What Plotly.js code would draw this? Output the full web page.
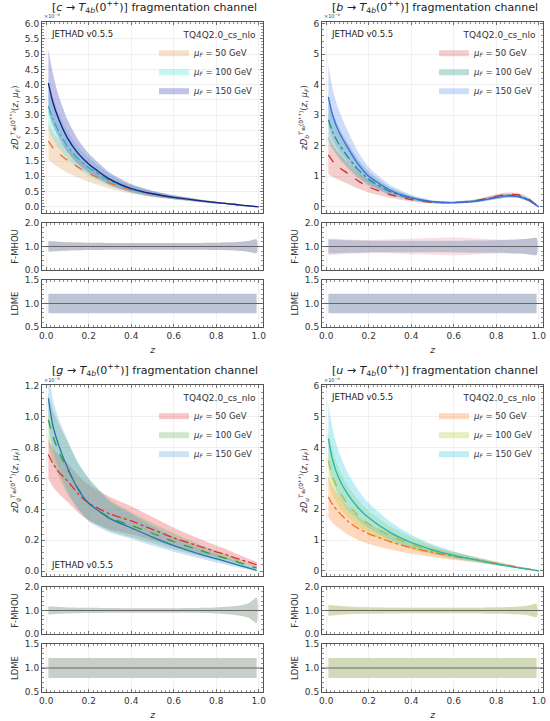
<!DOCTYPE html>
<html><head><meta charset="utf-8">
<script src="https://cdn.plot.ly/plotly-3.0.1.min.js"></script>
<style>html,body{margin:0;padding:0;background:#fff}#plot{width:550px;height:721px}</style>
</head><body><div id="plot"></div>
<script>
// ---------------- data (values in units of the axis multiplier) ----------------
const Z   = [0.01,0.03,0.06,0.1,0.15,0.2,0.3,0.4,0.5,0.6,0.7,0.8,0.85,0.9,0.95,1.0];
const Z_G = [0.01,0.03,0.06,0.1,0.15,0.2,0.3,0.4,0.5,0.6,0.7,0.8,0.85,0.9,0.95,0.99];
const Z_F = [0.01,0.1,0.2,0.4,0.6,0.8,0.9,0.95,0.99];
const Z_L = [0.01,0.99];
const SCALE_LABELS = ['50','100','150'];

// c -> T4b (x1e-9)
const C50     = [2.15,1.95,1.75,1.52,1.30,1.10,0.78,0.56,0.41,0.31,0.22,0.145,0.11,0.075,0.038,0];
const C50_HI  = [2.70,2.45,2.20,1.90,1.62,1.37,0.97,0.69,0.50,0.37,0.27,0.175,0.135,0.09,0.046,0];
const C50_LO  = [1.55,1.42,1.28,1.12,0.96,0.82,0.59,0.43,0.32,0.24,0.17,0.115,0.088,0.06,0.03,0];
const C100    = [3.30,2.90,2.45,1.98,1.58,1.28,0.85,0.58,0.42,0.31,0.22,0.14,0.11,0.07,0.035,0];
const C100_HI = [4.20,3.65,3.05,2.48,1.97,1.60,1.06,0.72,0.52,0.38,0.27,0.17,0.13,0.09,0.045,0];
const C100_LO = [2.55,2.25,1.92,1.57,1.25,1.02,0.68,0.47,0.34,0.25,0.18,0.11,0.085,0.055,0.025,0];
const C150    = [4.05,3.45,2.85,2.25,1.75,1.40,0.90,0.60,0.43,0.31,0.22,0.14,0.11,0.07,0.035,0];
const C150_HI = [5.15,4.40,3.60,2.85,2.20,1.75,1.12,0.75,0.53,0.38,0.27,0.17,0.13,0.09,0.045,0];
const C150_LO = [3.10,2.70,2.25,1.80,1.40,1.12,0.72,0.48,0.34,0.25,0.18,0.11,0.085,0.055,0.025,0];
const C_F_HI  = [1.22,1.18,1.16,1.15,1.15,1.16,1.19,1.23,1.30];
const C_F_LO  = [0.79,0.83,0.85,0.86,0.86,0.85,0.82,0.78,0.72];
const C_F2_HI = [1.25,1.19,1.16,1.15,1.15,1.16,1.19,1.23,1.30];
const C_F2_LO = [0.77,0.82,0.85,0.86,0.86,0.85,0.82,0.78,0.72];

// b -> T4b (x1e-9)
const B50     = [1.70,1.50,1.30,1.10,0.85,0.65,0.40,0.24,0.15,0.14,0.20,0.35,0.41,0.40,0.27,0];
const B50_HI  = [2.30,2.00,1.75,1.47,1.13,0.86,0.53,0.31,0.19,0.17,0.24,0.41,0.47,0.46,0.32,0];
const B50_LO  = [1.07,0.98,0.88,0.76,0.60,0.47,0.30,0.18,0.11,0.11,0.16,0.29,0.35,0.34,0.22,0];
const B100    = [2.85,2.45,2.05,1.65,1.22,0.90,0.50,0.28,0.16,0.14,0.19,0.32,0.37,0.36,0.24,0];
const B100_HI = [3.60,3.10,2.60,2.10,1.55,1.15,0.64,0.36,0.20,0.17,0.23,0.37,0.42,0.41,0.28,0];
const B100_LO = [2.20,1.90,1.60,1.28,0.95,0.70,0.39,0.22,0.12,0.11,0.15,0.26,0.31,0.31,0.20,0];
const B150    = [3.60,3.00,2.45,1.95,1.40,1.00,0.55,0.30,0.17,0.14,0.18,0.30,0.35,0.34,0.22,0];
const B150_HI = [4.65,3.85,3.15,2.50,1.80,1.30,0.72,0.40,0.22,0.18,0.23,0.36,0.41,0.39,0.26,0];
const B150_LO = [2.65,2.25,1.85,1.50,1.08,0.78,0.42,0.23,0.13,0.11,0.14,0.25,0.30,0.29,0.18,0];
const B_F_HI  = [1.30,1.27,1.25,1.25,1.25,1.27,1.30,1.33,1.36];
const B_F_LO  = [0.70,0.73,0.75,0.75,0.75,0.73,0.70,0.67,0.64];
const B_F2_HI = [1.35,1.30,1.28,1.33,1.38,1.30,1.30,1.33,1.36];
const B_F2_LO = [0.63,0.68,0.72,0.67,0.62,0.70,0.70,0.67,0.64];

// g -> T4b (x1e-8)
const G50     = [0.755,0.70,0.64,0.585,0.50,0.44,0.37,0.325,0.27,0.215,0.17,0.125,0.105,0.08,0.06,0.04];
const G50_HI  = [0.85,0.80,0.75,0.70,0.62,0.56,0.48,0.42,0.35,0.28,0.22,0.165,0.14,0.11,0.08,0.06];
const G50_LO  = [0.60,0.55,0.50,0.45,0.38,0.33,0.27,0.24,0.20,0.16,0.125,0.09,0.075,0.055,0.04,0.025];
const G100    = [0.98,0.88,0.77,0.66,0.535,0.44,0.345,0.295,0.245,0.19,0.145,0.10,0.08,0.06,0.035,0.02];
const G100_HI = [1.15,1.05,0.95,0.84,0.70,0.60,0.46,0.38,0.31,0.245,0.185,0.13,0.105,0.08,0.05,0.03];
const G100_LO = [0.82,0.72,0.61,0.50,0.40,0.33,0.26,0.22,0.18,0.14,0.105,0.07,0.055,0.04,0.02,0.01];
const G150    = [1.12,0.95,0.81,0.67,0.53,0.44,0.34,0.28,0.22,0.165,0.12,0.08,0.06,0.04,0.02,0.005];
const G150_HI = [1.35,1.12,0.98,0.85,0.70,0.60,0.45,0.37,0.29,0.22,0.16,0.11,0.085,0.06,0.035,0.015];
const G150_LO = [0.95,0.80,0.66,0.52,0.40,0.32,0.25,0.21,0.165,0.125,0.09,0.055,0.04,0.025,0.01,0.0];
const G_F_HI  = [1.18,1.13,1.12,1.10,1.10,1.13,1.20,1.30,1.55];
const G_F_LO  = [0.83,0.87,0.89,0.90,0.90,0.87,0.80,0.70,0.47];
const G_F2_HI = [1.18,1.13,1.12,1.10,1.10,1.13,1.20,1.30,1.55];
const G_F2_LO = [0.83,0.87,0.89,0.90,0.90,0.87,0.80,0.70,0.47];

// u -> T4b (x1e-9)
const U50     = [2.40,2.15,1.90,1.62,1.38,1.20,0.95,0.75,0.60,0.47,0.36,0.24,0.18,0.12,0.06,0];
const U50_HI  = [3.05,2.73,2.42,2.06,1.76,1.53,1.21,0.95,0.76,0.59,0.45,0.30,0.225,0.15,0.075,0];
const U50_LO  = [1.72,1.55,1.38,1.18,1.00,0.87,0.69,0.55,0.44,0.35,0.27,0.18,0.135,0.09,0.045,0];
const U100    = [3.58,3.05,2.60,2.17,1.80,1.52,1.14,0.86,0.65,0.49,0.36,0.23,0.17,0.11,0.055,0];
const U100_HI = [4.55,3.90,3.30,2.77,2.30,1.94,1.45,1.10,0.83,0.62,0.45,0.29,0.21,0.135,0.068,0];
const U100_LO = [2.85,2.45,2.08,1.74,1.44,1.22,0.91,0.69,0.52,0.39,0.29,0.18,0.135,0.087,0.044,0];
const U150    = [4.30,3.60,3.00,2.50,2.05,1.72,1.25,0.92,0.68,0.50,0.36,0.22,0.16,0.10,0.05,0];
const U150_HI = [5.45,4.60,3.85,3.20,2.62,2.20,1.60,1.17,0.86,0.63,0.45,0.28,0.20,0.125,0.063,0];
const U150_LO = [3.40,2.90,2.40,2.00,1.65,1.38,1.00,0.74,0.55,0.40,0.29,0.18,0.13,0.08,0.04,0];
const U_F_HI  = [1.22,1.16,1.13,1.12,1.12,1.13,1.16,1.20,1.28];
const U_F_LO  = [0.79,0.85,0.87,0.88,0.88,0.87,0.84,0.80,0.72];
const U_F2_HI = [1.25,1.18,1.14,1.12,1.12,1.13,1.16,1.20,1.28];
const U_F2_LO = [0.76,0.83,0.86,0.88,0.88,0.87,0.84,0.80,0.72];

// LDME band
const LDME_HI = [1.21,1.21];
const LDME_LO = [0.79,0.79];

// ---------------- panel options built from the arrays ----------------
const panels = [
  {flav:'c', exp:'9', z:Z, cen:[C50,C100,C150], hi:[C50_HI,C100_HI,C150_HI], lo:[C50_LO,C100_LO,C150_LO],
   fhi:C_F_HI, flo:C_F_LO, f2hi:C_F2_HI, f2lo:C_F2_LO,
   band:['rgba(232,170,110,0.35)','rgba(64,224,208,0.30)','rgba(100,100,200,0.40)'],
   line:['#e8732a','#22b8b0','#1c1c8a'], dash:['dash','dashdot','solid'],
   fcol:'rgba(165,178,205,0.70)', f2col:'rgba(235,190,150,0.40)', lcol:'#bcc5d5',
   yr:[-0.2,6.05], dt:0.5, mdt:0.1, fmt:'.1f', jet:'top'},
  {flav:'b', exp:'9', z:Z, cen:[B50,B100,B150], hi:[B50_HI,B100_HI,B150_HI], lo:[B50_LO,B100_LO,B150_LO],
   fhi:B_F_HI, flo:B_F_LO, f2hi:B_F2_HI, f2lo:B_F2_LO,
   band:['rgba(220,90,90,0.30)','rgba(40,150,130,0.32)','rgba(100,150,235,0.32)'],
   line:['#d62728','#1f8f80','#4169e1'], dash:['dash','dashdot','solid'],
   fcol:'rgba(165,178,205,0.70)', f2col:'rgba(240,170,170,0.35)', lcol:'#bcc5d5',
   yr:[-0.2,6.05], dt:1, mdt:0.2, fmt:'d', jet:'top'},
  {flav:'g', exp:'8', z:Z_G, cen:[G50,G100,G150], hi:[G50_HI,G100_HI,G150_HI], lo:[G50_LO,G100_LO,G150_LO],
   fhi:G_F_HI, flo:G_F_LO, f2hi:G_F2_HI, f2lo:G_F2_LO,
   band:['rgba(235,90,100,0.35)','rgba(90,180,90,0.30)','rgba(90,160,215,0.30)'],
   line:['#e03030','#2ca02c','#1f77b4'], dash:['dashdot','dash','solid'],
   fcol:'rgba(185,196,188,0.80)', f2col:'rgba(185,196,188,0.0)', lcol:'#c8cfc8',
   yr:[-0.032,1.206], dt:0.2, mdt:0.04, fmt:'.1f', jet:'bottom'},
  {flav:'u', exp:'9', z:Z, cen:[U50,U100,U150], hi:[U50_HI,U100_HI,U150_HI], lo:[U50_LO,U100_LO,U150_LO],
   fhi:U_F_HI, flo:U_F_LO, f2hi:U_F2_HI, f2lo:U_F2_LO,
   band:['rgba(255,160,90,0.40)','rgba(195,205,70,0.35)','rgba(70,210,230,0.35)'],
   line:['#ff6a13','#b5bd2a','#20b5b5'], dash:['dashdot','dash','solid'],
   fcol:'rgba(205,212,170,0.80)', f2col:'rgba(250,200,150,0.40)', lcol:'#d3dab9',
   yr:[-0.17,6.04], dt:1, mdt:0.2, fmt:'d', jet:'top'}
];

// pixel-based layout helpers (page 550x721)
const W = 550, H = 721;
const px = v => v / W, py = v => 1 - v / H;
const colX = [[42,263],[322,543]];
const rowY = [ // [main, F, LDME] each [top,bottom] in px
  [[22,213],[223,270],[280,327]],
  [[385,576],[587,634],[644,692]]
];
const FONT = 'DejaVu Sans, Liberation Sans, sans-serif';

function axBase(){
  return {showline:true, linecolor:'#555', linewidth:1, mirror:'allticks',
    ticks:'inside', ticklen:3, tickwidth:0.8, tickcolor:'#555',
    showgrid:true, gridcolor:'#ececec', gridwidth:0.8, zeroline:false,
    tickfont:{family:FONT, size:9, color:'#333'}};
}

const traces = [];
const layout = {
  width:W, height:H, margin:{l:0,r:0,t:0,b:0}, paper_bgcolor:'#fff', plot_bgcolor:'#fff',
  showlegend:true, font:{family:FONT, color:'#222'}, annotations:[], shapes:[]
};

function bandTrace(x, hi, lo, color, xa, ya, extra){
  const xs = x.concat(x.slice().reverse());
  const ys = hi.concat(lo.slice().reverse());
  return Object.assign({type:'scatter', mode:'lines', x:xs, y:ys, fill:'toself', fillcolor:color,
    line:{width:0, color:color, shape:'spline', smoothing:0.6}, hoverinfo:'skip', showlegend:false,
    xaxis:xa, yaxis:ya}, extra||{});
}

panels.forEach((p, i) => {
  const col = i % 2, row = Math.floor(i / 2);
  const legKey = i === 0 ? 'legend' : 'legend' + (i + 1);
  const xs = colX[col];
  const ids = [0,1,2].map(s => i*3 + s + 1);
  const xn = n => n === 1 ? 'x' : 'x' + n;
  const yn = n => n === 1 ? 'y' : 'y' + n;

  ids.forEach((n, s) => {
    const xk = n === 1 ? 'xaxis' : 'xaxis' + n;
    const yk = n === 1 ? 'yaxis' : 'yaxis' + n;
    const yd = rowY[row][s];
    const xa = Object.assign(axBase(), {domain:[px(xs[0]), px(xs[1])], range:[-0.02,1.02],
      dtick:0.2, tick0:0, tickformat:'.1f', anchor:yn(n), showticklabels: s === 2,
      minor:{ticks:'inside', ticklen:1.6, tickcolor:'#777', dtick:0.02, showgrid:false}});
    if (s === 2) xa.title = {text:'<i>z</i>', font:{family:FONT, size:9, color:'#333'}, standoff:6};
    const ya = Object.assign(axBase(), {domain:[py(yd[1]), py(yd[0])], anchor:xn(n)});
    if (s === 0) {
      Object.assign(ya, {range:p.yr, dtick:p.dt, tick0:0, tickformat:p.fmt,
        minor:{ticks:'inside', ticklen:1.6, tickcolor:'#777', dtick:p.mdt, showgrid:false},
        title:{text:'<i>zD</i><sub><i>'+p.flav+'</i></sub><sup><i>T</i><sub>4b</sub>(0<sup>++</sup>)</sup>(<i>z</i>, <i>μ<sub>F</sub></i>)',
          font:{family:FONT, size:8.5, color:'#333'}, standoff:4}});
    } else if (s === 1) {
      Object.assign(ya, {range:[0,2], dtick:1, tick0:0, tickformat:'.1f',
        minor:{ticks:'inside', ticklen:1.6, tickcolor:'#777', dtick:0.2, showgrid:false},
        title:{text:'F-MHOU', font:{family:FONT, size:8.5, color:'#333'}, standoff:4}});
    } else {
      Object.assign(ya, {range:[0.5,1.5], dtick:0.5, tick0:0, tickformat:'.1f',
        minor:{ticks:'inside', ticklen:1.6, tickcolor:'#777', dtick:0.1, showgrid:false},
        title:{text:'LDME', font:{family:FONT, size:8.5, color:'#333'}, standoff:4}});
    }
    layout[xk] = xa; layout[yk] = ya;
  });

  for (let k = 0; k < 3; k++) {
    traces.push(bandTrace(p.z, p.hi[k], p.lo[k], p.band[k], xn(ids[0]), yn(ids[0]),
      {showlegend:true, legend:legKey, name:'<i>μ<sub>F</sub></i> = '+SCALE_LABELS[k]+' GeV'}));
  }
  for (let k = 0; k < 3; k++) {
    traces.push({type:'scatter', mode:'lines', x:p.z, y:p.cen[k], showlegend:false, hoverinfo:'skip',
      line:{color:p.line[k], width:1.3, dash:p.dash[k], shape:'spline', smoothing:0.6},
      xaxis:xn(ids[0]), yaxis:yn(ids[0])});
  }
  traces.push(bandTrace(Z_F, p.f2hi, p.f2lo, p.f2col, xn(ids[1]), yn(ids[1])));
  traces.push(bandTrace(Z_F, p.fhi, p.flo, p.fcol, xn(ids[1]), yn(ids[1])));
  traces.push(bandTrace(Z_L, LDME_HI, LDME_LO, p.lcol, xn(ids[2]), yn(ids[2]), {line:{width:0}}));

  [1,2].forEach(s => {
    layout.shapes.push({type:'line', xref:xn(ids[s])+' domain', x0:0, x1:1, yref:yn(ids[s]), y0:1, y1:1,
      line:{color:'#666', width:1}});
  });

  const mainTop = rowY[row][0][0];
  layout[legKey] = {x: px(xs[1]-4), y: py(mainTop+4), xanchor:'right', yanchor:'top',
    bgcolor:'rgba(0,0,0,0)', borderwidth:0, font:{family:FONT, size:8.5, color:'#333'},
    title:{text:'TQ4Q2.0_cs_nlo', font:{family:FONT, size:9, color:'#333'}, side:'top right'},
    itemwidth:30, tracegroupgap:0};

  const cx = (xs[0] + xs[1]) / 2;
  layout.annotations.push({xref:'paper', yref:'paper', x:px(cx+2), y:py(mainTop-5), xanchor:'center', yanchor:'bottom',
    text:'[<i>'+p.flav+'</i> → <i>T</i><sub>4<i>b</i></sub>(0<sup>++</sup>)] fragmentation channel',
    showarrow:false, font:{family:FONT, size:11, color:'#222'}});
  layout.annotations.push({xref:'paper', yref:'paper', x:px(xs[0]), y:py(mainTop-0.5), xanchor:'left', yanchor:'bottom',
    text:'×10<sup>−'+p.exp+'</sup>', showarrow:false, font:{family:FONT, size:5, color:'#333'}});
  const jy = p.jet === 'top' ? py(mainTop+12) : py(rowY[row][0][1]-11);
  layout.annotations.push({xref:'paper', yref:'paper', x:px(xs[0]+7), y:jy, xanchor:'left', yanchor:'middle',
    text:'JETHAD v0.5.5', showarrow:false, font:{family:FONT, size:8.5, color:'#222'}});
});

Plotly.newPlot('plot', traces, layout, {staticPlot:true, displayModeBar:false});
</script>
</body></html>
